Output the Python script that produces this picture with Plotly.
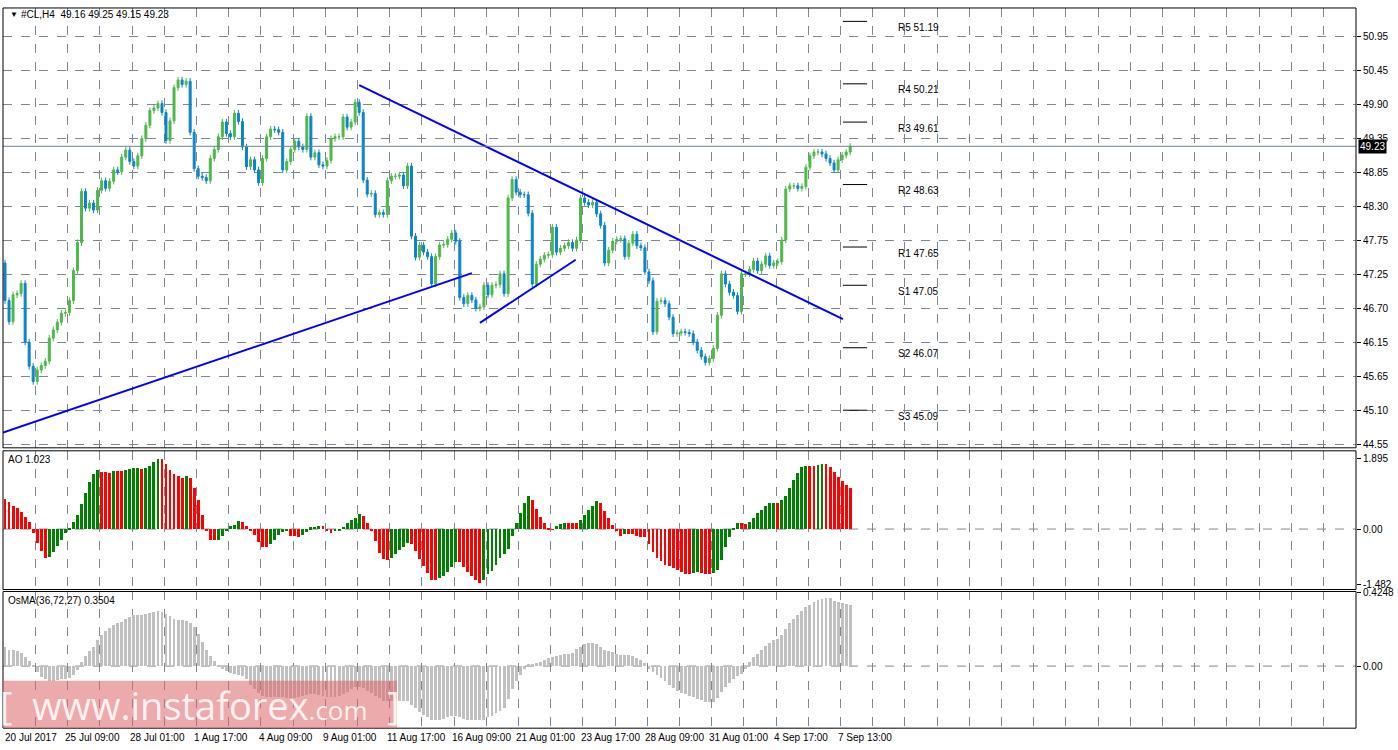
import plotly.graph_objects as go

W, H = 1398, 750

# ---------------- data ----------------
closes = [46.81,46.48,46.90,46.92,47.08,46.16,45.78,45.54,45.72,45.79,
          45.86,46.22,46.35,46.47,46.61,46.62,46.81,47.28,47.72,48.52,
          48.26,48.34,48.23,48.54,48.69,48.57,48.68,48.86,48.83,49.06,
          49.17,48.99,48.92,49.08,49.35,49.56,49.79,49.83,49.90,49.76,
          49.32,49.63,50.15,50.27,50.20,50.25,49.45,48.88,48.76,48.74,
          48.69,49.04,49.18,49.38,49.61,49.43,49.38,49.75,49.62,49.22,
          48.91,49.02,48.86,48.66,49.04,49.38,49.50,49.49,49.45,48.86,
          48.99,49.18,49.31,49.22,49.18,49.70,49.06,49.13,48.94,48.92,
          49.01,49.35,49.38,49.38,49.69,49.53,49.61,49.92,49.76,48.70,
          48.48,48.49,48.16,48.19,48.16,48.69,48.76,48.76,48.78,48.61,
          48.92,47.82,47.49,47.68,47.57,47.50,47.07,47.50,47.68,47.69,
          47.77,47.87,47.74,46.86,46.76,46.89,46.82,46.69,46.71,47.05,
          46.90,47.05,47.06,47.23,46.92,48.42,48.71,48.51,48.47,48.47,
          48.18,47.07,47.38,47.46,47.52,47.53,47.96,47.57,47.63,47.67,
          47.72,47.63,47.76,48.42,48.35,48.31,48.35,48.17,47.99,47.40,
          47.60,47.74,47.77,47.78,47.50,47.71,47.85,47.67,47.64,47.26,
          47.12,46.32,46.80,46.81,46.76,46.55,46.29,46.30,46.32,46.31,
          46.29,46.16,46.03,45.93,45.84,45.90,46.06,46.58,47.23,47.07,
          46.94,46.89,46.64,47.23,47.23,47.30,47.43,47.28,47.38,47.51,
          47.36,47.40,47.42,47.76,48.56,48.61,48.61,48.57,48.60,48.90,
          49.08,49.14,49.14,49.11,49.04,48.97,48.86,49.02,49.09,49.14,
          49.23]
first_open = 47.40
wick = 0.05

ao_values = [0.82,0.73,0.64,0.56,0.46,0.33,0.19,-0.09,-0.37,-0.59,
             -0.78,-0.75,-0.62,-0.46,-0.30,-0.11,0.04,0.19,0.38,0.67,
             0.98,1.27,1.49,1.59,1.55,1.54,1.52,1.57,1.57,1.57,
             1.59,1.63,1.64,1.66,1.63,1.66,1.70,1.81,1.89,1.89,
             1.75,1.59,1.50,1.44,1.39,1.44,1.39,1.12,0.78,0.38,
             -0.04,-0.28,-0.30,-0.28,-0.18,-0.05,0.09,0.11,0.23,0.20,
             0.09,-0.04,-0.15,-0.35,-0.48,-0.48,-0.39,-0.28,-0.15,-0.07,
             -0.06,-0.17,-0.19,-0.22,-0.15,-0.07,0.05,0.06,0.09,0.09,
             -0.06,-0.10,-0.05,-0.04,0.07,0.18,0.25,0.29,0.41,0.35,
             0.17,-0.04,-0.31,-0.65,-0.81,-0.84,-0.78,-0.68,-0.56,-0.48,
             -0.36,-0.41,-0.59,-0.79,-0.99,-1.19,-1.38,-1.38,-1.32,
             -1.25,-1.15,-1.01,-0.88,-0.88,-1.01,-1.15,-1.25,-1.38,-1.44,
             -1.37,-1.22,-1.12,-0.96,-0.78,-0.68,-0.52,-0.18,0.18,0.44,
             0.72,0.91,0.78,0.54,0.33,0.17,0.04,-0.02,0.09,0.14,
             0.17,0.17,0.17,0.17,0.25,0.38,0.51,0.64,0.75,0.70,
             0.48,0.30,0.11,-0.06,-0.17,-0.14,-0.14,-0.14,-0.17,-0.20,
             -0.22,-0.41,-0.62,-0.78,-0.85,-0.96,-0.99,-1.04,-1.09,-1.15,
             -1.22,-1.22,-1.17,-1.15,-1.17,-1.20,-1.22,-1.17,-1.09,-0.83,
             -0.48,-0.22,0.03,0.18,0.18,0.15,0.20,0.31,0.44,0.51,
             0.64,0.70,0.72,0.72,0.80,0.91,1.12,1.33,1.52,1.67,
             1.70,1.70,1.70,1.73,1.75,1.75,1.67,1.54,1.41,1.30,
             1.20,1.12]

osma_values = [0.110,0.091,0.091,0.084,0.074,0.050,0.025,-0.008,-0.036,-0.065,
               -0.080,-0.088,-0.088,-0.084,-0.080,-0.080,-0.069,-0.055,-0.027,0.021,
               0.057,0.084,0.110,0.150,0.179,0.198,0.215,0.232,0.244,0.251,
               0.269,0.282,0.290,0.290,0.291,0.295,0.301,0.309,0.312,0.309,
               0.297,0.286,0.269,0.265,0.263,0.255,0.246,0.221,0.183,0.135,
               0.091,0.053,0.025,-0.008,-0.019,-0.029,-0.040,-0.048,-0.055,-0.061,
               -0.080,-0.109,-0.135,-0.160,-0.175,-0.179,-0.179,-0.181,-0.183,-0.183,
               -0.187,-0.189,-0.185,-0.179,-0.173,-0.170,-0.164,-0.164,-0.170,-0.175,
               -0.183,-0.183,-0.179,-0.173,-0.166,-0.150,-0.137,-0.126,-0.122,-0.131,
               -0.145,-0.160,-0.175,-0.189,-0.202,-0.206,-0.206,-0.202,-0.202,-0.202,
               -0.206,-0.227,-0.246,-0.265,-0.284,-0.299,-0.312,-0.316,
               -0.312,-0.307,-0.299,-0.293,-0.288,-0.297,-0.309,-0.312,-0.316,-0.316,
               -0.316,-0.312,-0.299,-0.290,-0.274,-0.259,-0.246,-0.194,-0.137,-0.091,
               -0.055,-0.019,0.008,0.008,0.015,0.023,0.032,0.044,0.050,0.055,
               0.061,0.067,0.069,0.072,0.097,0.110,0.122,0.131,0.131,0.122,
               0.107,0.091,0.084,0.078,0.069,0.061,0.059,0.059,0.053,0.046,
               0.030,0.017,-0.019,-0.038,-0.055,-0.074,-0.088,-0.109,-0.128,-0.147,
               -0.156,-0.166,-0.175,-0.183,-0.190,-0.198,-0.208,-0.208,-0.208,-0.187,
               -0.152,-0.122,-0.099,-0.078,-0.061,-0.050,-0.019,0.021,0.050,0.069,
               0.088,0.112,0.131,0.145,0.154,0.177,0.211,0.248,0.269,0.293,
               0.312,0.335,0.350,0.368,0.377,0.383,0.387,0.387,0.373,0.366,
               0.360,0.356,0.350]

date_labels = ["20 Jul 2017","25 Jul 09:00","28 Jul 01:00","1 Aug 17:00","4 Aug 09:00",
               "9 Aug 01:00","11 Aug 17:00","16 Aug 09:00","21 Aug 01:00","23 Aug 17:00",
               "28 Aug 09:00","31 Aug 01:00","4 Sep 17:00","7 Sep 13:00"]
date_bars = [0,15,31,47,63,79,95,111,127,143,159,175,191,207]

price_tick_text = ["50.95","50.45","49.90","49.35","48.85","48.30","47.75",
                   "47.25","46.70","46.15","45.65","45.10","44.55"]
price_tick_vals = [50.95-0.5333*k for k in range(len(price_tick_text))]

pivot_names = ["R5","R4","R3","R2","R1","S1","S2","S3"]
pivot_values = [51.19,50.21,49.61,48.63,47.65,47.05,46.07,45.09]

# trendlines: (bar0, price0, bar1, price1)
trendlines = [(-0.5,44.74,116.0,47.24),
              (118.0,46.46,141.8,47.45),
              (88.0,50.19,208.2,46.52)]

last_price = 49.23

# ---------------- derived ----------------
n = len(closes)
xs = list(range(n))
opens = [first_open] + closes[:-1]
highs = [max(o, c) + wick for o, c in zip(opens, closes)]
lows = [min(o, c) - wick for o, c in zip(opens, closes)]
ao_colors = ["#008000" if i > 0 and ao_values[i] > ao_values[i-1] else "#FF0000"
             for i in range(len(ao_values))]

def px(x): return x / W
def py(y): return 1 - y / H

x0p, x1p = px(3), px(1356)
bar_px = 4.026
xr = [-0.5, 210 + (1356 - 850) / bar_px]

GRID = "#7C8896"
FONT = "Liberation Sans"

fig = go.Figure()
fig.add_trace(go.Candlestick(x=xs, open=opens, high=highs, low=lows, close=closes,
                             increasing=dict(line=dict(color="#4DB848", width=1), fillcolor="#4DB848"),
                             decreasing=dict(line=dict(color="#0A85C7", width=1), fillcolor="#0A85C7"),
                             whiskerwidth=0, xaxis="x", yaxis="y", showlegend=False, hoverinfo="skip"))
fig.add_trace(go.Bar(x=list(range(len(ao_values))), y=ao_values, marker=dict(color=ao_colors, line=dict(width=0)),
                     width=0.72, xaxis="x2", yaxis="y2", showlegend=False, hoverinfo="skip"))
fig.add_trace(go.Bar(x=list(range(len(osma_values))), y=osma_values, marker=dict(color="#C0C0C0", line=dict(width=0)),
                     width=0.72, xaxis="x3", yaxis="y3", showlegend=False, hoverinfo="skip"))

pv_x0, pv_x1 = 208.2, 214.2
for nm, v in zip(pivot_names, pivot_values):
    fig.add_trace(go.Scatter(x=[pv_x0, pv_x1], y=[v, v], mode="lines", line=dict(color="black", width=1),
                             xaxis="x", yaxis="y", showlegend=False, hoverinfo="skip"))
    fig.add_annotation(x=221.5, y=v, xref="x", yref="y", text=f"{nm} {v:.2f}", showarrow=False,
                       xanchor="left", yanchor="middle", yshift=-6, font=dict(family=FONT, size=10, color="black"))
for (a, b, c, d) in trendlines:
    fig.add_trace(go.Scatter(x=[a, c], y=[b, d], mode="lines", line=dict(color="#0000FF", width=2),
                             xaxis="x", yaxis="y", showlegend=False, hoverinfo="skip"))
fig.add_trace(go.Scatter(x=[xr[0], xr[1]], y=[last_price, last_price], mode="lines",
                         line=dict(color="#708090", width=1), xaxis="x", yaxis="y",
                         showlegend=False, hoverinfo="skip"))

gridx = dict(showgrid=True, gridcolor=GRID, griddash="dash", gridwidth=1, tick0=7.6, dtick=8,
             showticklabels=False, ticks="", range=xr, zeroline=False, fixedrange=True)
tf = dict(family=FONT, size=10, color="black")
fig.update_layout(
    width=W, height=H, margin=dict(l=0, r=0, t=0, b=0),
    paper_bgcolor="white", plot_bgcolor="white", bargap=0,
    xaxis=dict(domain=[x0p, x1p], anchor="y", rangeslider=dict(visible=False), **gridx),
    xaxis2=dict(domain=[x0p, x1p], anchor="y2", matches="x", **gridx),
    xaxis3=dict(domain=[x0p, x1p], anchor="y3", matches="x", **gridx),
    yaxis=dict(domain=[py(447), py(3)], range=[44.50, 51.40], side="right", tickvals=price_tick_vals,
               ticktext=price_tick_text, showgrid=True, gridcolor=GRID, griddash="dash",
               ticks="outside", ticklen=4, tickcolor="black", zeroline=False, tickfont=tf),
    yaxis2=dict(domain=[py(590), py(450)], range=[-1.63, 2.11], side="right", tickvals=[1.895, 0, -1.482],
                ticktext=["1.895", "0.00", "-1.482"], showgrid=False, zeroline=False,
                ticks="outside", ticklen=4, tickcolor="black", tickfont=tf),
    yaxis3=dict(domain=[py(730), py(592)], range=[-0.358, 0.430], side="right", tickvals=[0.4248, 0, -0.359],
                ticktext=["0.4248", "0.00", "-0.359"], showgrid=False, zeroline=False,
                ticks="outside", ticklen=4, tickcolor="black", tickfont=tf),
)

shapes = []
for xa, ya in (("x2", "y2"), ("x3", "y3")):
    shapes.append(dict(type="line", xref=f"{xa} domain", yref=ya, x0=0, x1=1, y0=0, y1=0,
                       line=dict(color=GRID, width=1, dash="dash"), layer="below"))
for top, bot in ((3, 447), (450, 590), (592, 730)):
    shapes.append(dict(type="rect", xref="paper", yref="paper", x0=x0p, x1=x1p, y0=py(bot), y1=py(top),
                       line=dict(color="black", width=1), fillcolor="rgba(0,0,0,0)"))
shapes.append(dict(type="rect", xref="paper", yref="paper", x0=px(3), x1=px(397), y0=py(730), y1=py(682),
                   line=dict(width=0), fillcolor="rgba(222,100,105,0.55)", layer="above"))
fig.update_layout(shapes=shapes)

fig.add_annotation(x=x1p, y=last_price, xref="paper", yref="y", text=f"{last_price:.2f}", showarrow=False,
                   xanchor="left", yanchor="middle", bgcolor="black", borderpad=1, xshift=2,
                   font=dict(family=FONT, size=10, color="white"))
fig.add_annotation(x=px(8), y=py(10), xref="paper", yref="paper", text="▼", showarrow=False,
                   xanchor="left", yanchor="middle", font=dict(family=FONT, size=8, color="black"))
fig.add_annotation(x=px(19), y=py(10), xref="paper", yref="paper", text="#CL,H4  49.16 49.25 49.15 49.23",
                   showarrow=False, xanchor="left", yanchor="middle", font=tf)
fig.add_annotation(x=px(6), y=py(459), xref="paper", yref="paper", text="AO 1.023",
                   showarrow=False, xanchor="left", yanchor="middle", font=tf)
fig.add_annotation(x=px(6), y=py(601), xref="paper", yref="paper", text="OsMA(36,72,27) 0.3504",
                   showarrow=False, xanchor="left", yanchor="middle", font=tf)
for b, t in zip(date_bars, date_labels):
    fig.add_annotation(x=b, y=py(739), xref="x3", yref="paper", text=t, showarrow=False,
                       xanchor="left", yanchor="middle", xshift=-2, font=tf)
fig.add_annotation(x=px(200), y=py(707), xref="paper", yref="paper",
                   text="[  www.instaforex<span style='font-size:26px'>.com</span>  ]", showarrow=False,
                   xanchor="center", yanchor="middle",
                   font=dict(family="Open Sans", size=38, color="rgba(255,255,255,0.85)"))

fig.write_html("out.html", config={"displayModeBar": False},
               post_script="document.body.style.margin='0';document.body.style.overflow='hidden';")
